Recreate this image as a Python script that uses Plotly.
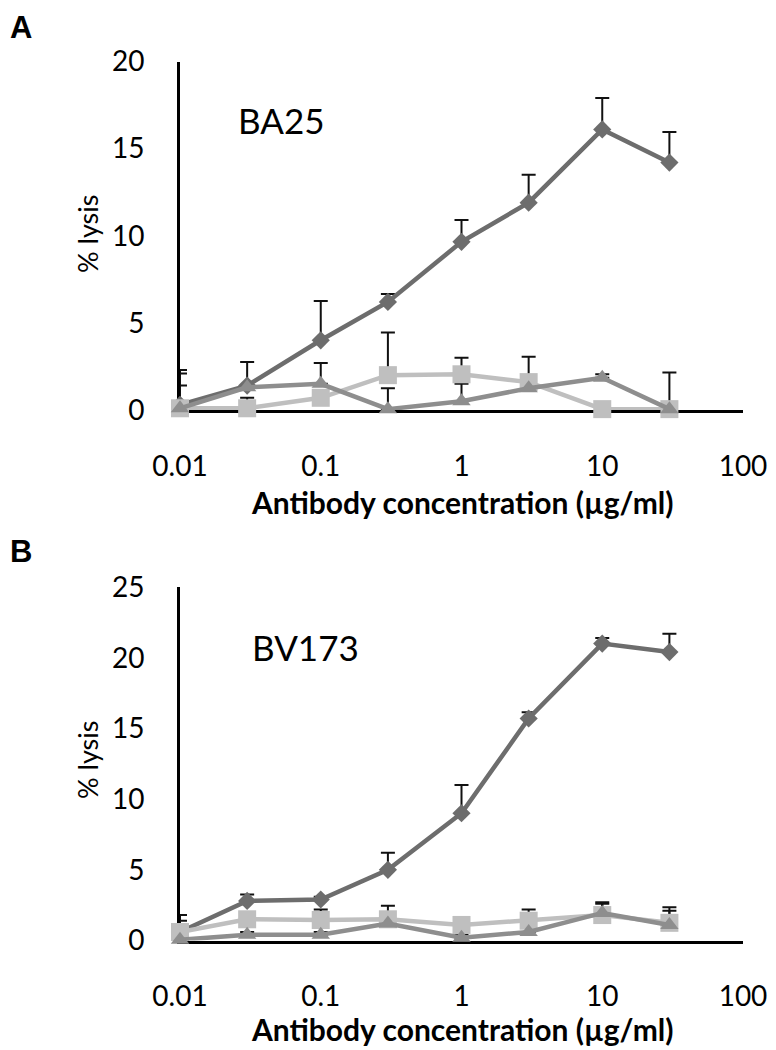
import plotly.graph_objects as go

W, H = 776, 1050
PAGE_OFFSET = 8  # default body margin of the html page

# antibody concentrations (µg/ml)
conc = [0.01, 0.03, 0.1, 0.3, 1, 3, 10, 30]
x_ticks = [0.01, 0.1, 1, 10, 100]
x_ticktext = ["0.01", "0.1", "1", "10", "100"]

# panel A - BA25
ba25_diamond = [0.3, 1.4, 4.0, 6.2, 9.65, 11.9, 16.1, 14.2]
ba25_diamond_err = [2.0, 1.35, 2.25, 0.45, 1.25, 1.6, 1.8, 1.75]
ba25_square = [0.1, 0.1, 0.7, 2.0, 2.05, 1.6, 0.05, 0.05]
ba25_square_err = [2.0, 0.6, 0.3, 2.45, 0.95, 1.45, 0.0, 2.1]
ba25_triangle = [0.1, 1.3, 1.5, 0.05, 0.5, 1.25, 1.85, 0.05]
ba25_triangle_err = [1.3, 0.0, 1.2, 1.2, 1.0, 0.3, 0.2, 0.2]
ba25_yticks = [0, 5, 10, 15, 20]

# panel B - BV173
bv173_diamond = [0.6, 2.8, 2.9, 5.0, 9.0, 15.7, 21.0, 20.4]
bv173_diamond_err = [1.2, 0.45, 0.2, 1.2, 2.0, 0.45, 0.4, 1.3]
bv173_square = [0.6, 1.5, 1.45, 1.5, 1.1, 1.4, 1.8, 1.25]
bv173_square_err = [0.8, 0.3, 0.75, 0.95, 0.3, 0.8, 0.8, 1.1]
bv173_triangle = [0.05, 0.4, 0.4, 1.2, 0.2, 0.6, 1.95, 1.1]
bv173_triangle_err = [0.2, 0.2, 0.2, 0.3, 0.2, 0.3, 0.75, 1.0]
bv173_yticks = [0, 5, 10, 15, 20, 25]

DIAMOND = "#6d6d6d"
SQUARE = "#bfbfbf"
TRIANGLE = "#8e8e8e"
FONT = "Lato"

series_style = [
    ("diamond", DIAMOND, 14),
    ("square", SQUARE, 18),
    ("triangle-up", TRIANGLE, 16),
]


def px_x(p):
    return (p - PAGE_OFFSET) / W


def px_y(p):
    return 1 - (p - PAGE_OFFSET) / H


fig = go.Figure()


def add_panel(xa, ya, values, errors):
    # error bars first so markers sit on top of them
    for y, err in zip(values, errors):
        fig.add_trace(go.Scatter(
            x=conc, y=y, mode="markers", xaxis=xa, yaxis=ya,
            marker=dict(size=1, color="rgba(0,0,0,0)"),
            error_y=dict(type="data", array=err, arrayminus=[0] * len(err),
                         symmetric=False, color="#111111", thickness=2, width=7),
            cliponaxis=False, showlegend=False, hoverinfo="skip",
        ))
    for y, (sym, col, size) in zip(values, series_style):
        fig.add_trace(go.Scatter(
            x=conc, y=y, mode="lines+markers", xaxis=xa, yaxis=ya,
            line=dict(color=col, width=4.5),
            marker=dict(symbol=sym, color=col, size=size),
            cliponaxis=False, showlegend=False,
        ))


add_panel("x", "y",
          [ba25_diamond, ba25_square, ba25_triangle],
          [ba25_diamond_err, ba25_square_err, ba25_triangle_err])
add_panel("x2", "y2",
          [bv173_diamond, bv173_square, bv173_triangle],
          [bv173_diamond_err, bv173_square_err, bv173_triangle_err])

x_dom = [px_x(180), px_x(743)]
xaxis_style = dict(
    type="log", range=[-2, 2], domain=x_dom,
    tickvals=x_ticks, ticktext=x_ticktext,
    showgrid=False, zeroline=False, showline=True, automargin=False,
    linecolor="black", linewidth=3, ticks="",
    ticklabelstandoff=29, layer="below traces",
    tickfont=dict(family=FONT, size=28, color="black"),
)
yaxis_style = dict(
    showgrid=False, zeroline=False, showline=True, automargin=False,
    linecolor="black", linewidth=3, ticks="",
    ticklabelstandoff=27, layer="below traces",
    tickfont=dict(family=FONT, size=28, color="black"),
)

fig.update_layout(
    width=W, height=H, autosize=False,
    margin=dict(l=0, r=0, t=0, b=0, pad=0),
    paper_bgcolor="white", plot_bgcolor="white",
    showlegend=False,
    xaxis=dict(xaxis_style, anchor="y"),
    yaxis=dict(yaxis_style, anchor="x", range=[0, 20], tickvals=ba25_yticks,
               domain=[px_y(410), px_y(61.5)]),
    xaxis2=dict(xaxis_style, anchor="y2"),
    yaxis2=dict(yaxis_style, anchor="x2", range=[0, 25], tickvals=bv173_yticks,
                domain=[px_y(940.5), px_y(587)]),
)

# panel letters, anchored at their top edge so they stay inside the page
fig.add_annotation(text="<b>A</b>", x=px_x(21), y=1.0, xref="paper", yref="paper",
                   xanchor="center", yanchor="top", showarrow=False,
                   font=dict(family="Liberation Sans", size=31, color="black"))
fig.add_annotation(text="<b>B</b>", x=px_x(21), y=px_y(532), xref="paper", yref="paper",
                   xanchor="center", yanchor="top", showarrow=False,
                   font=dict(family="Liberation Sans", size=31, color="black"))

xtitle = "Antibody concentration (µg/ml)"
annots = [
    dict(text="BA25", x=px_x(281), y=px_y(120), font=dict(family=FONT, size=35, color="black")),
    dict(text="BV173", x=px_x(305), y=px_y(647), font=dict(family=FONT, size=35, color="black")),
    dict(text="% lysis", x=px_x(87), y=px_y(234), textangle=-90, font=dict(family=FONT, size=27, color="black")),
    dict(text="% lysis", x=px_x(87), y=px_y(760), textangle=-90, font=dict(family=FONT, size=27, color="black")),
    dict(text="<b>" + xtitle + "</b>", x=px_x(462), y=px_y(502), font=dict(family=FONT, size=30, color="black")),
    dict(text="<b>" + xtitle + "</b>", x=px_x(462), y=px_y(1029), font=dict(family=FONT, size=30, color="black")),
]
for a in annots:
    fig.add_annotation(xref="paper", yref="paper", xanchor="center", yanchor="middle",
                       showarrow=False, **a)

fig.write_html("out.html")
